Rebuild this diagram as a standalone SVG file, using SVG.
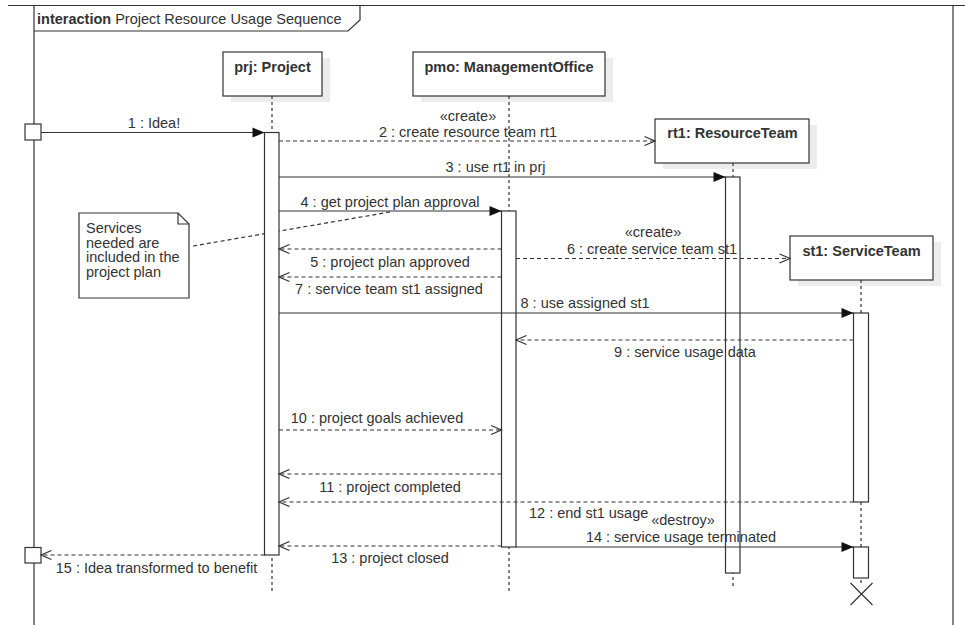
<svg xmlns="http://www.w3.org/2000/svg" width="965" height="625" viewBox="0 0 965 625">
  <style>
    text { font-family: "Liberation Sans", Arial, sans-serif; font-size: 14.5px; fill: #333; }
    .b { font-weight: bold; }
    .mid { text-anchor: middle; }
    .ln { stroke: #333; stroke-width: 1.2; fill: none; }
    .dash { stroke-dasharray: 4 3; }
    .life { stroke: #333; stroke-width: 1.2; stroke-dasharray: 3 3; fill: none; }
    .box { fill: #fff; stroke: #333; stroke-width: 1.2; }
    .shadow { fill: #ececec; }
    .msg { stroke: #333; stroke-width: 1.2; fill: none; marker-end: url(#filled); }
    .rep { stroke: #333; stroke-width: 1.2; fill: none; stroke-dasharray: 4 3; marker-end: url(#open); }
  </style>
  <defs>
    <marker id="filled" markerUnits="userSpaceOnUse" markerWidth="13" markerHeight="11" refX="12" refY="5" orient="auto" overflow="visible">
      <path d="M0,0 L12,5 L0,10 z" fill="#111" stroke="none"/>
    </marker>
    <marker id="open" markerUnits="userSpaceOnUse" markerWidth="12" markerHeight="11" refX="10.5" refY="5" orient="auto" overflow="visible">
      <path d="M0,0.5 L10.5,5 L0,9.5" fill="none" stroke="#333" stroke-width="1.2"/>
    </marker>
  </defs>

  <rect width="965" height="625" fill="#fff"/>

  <!-- interaction frame -->
  <g id="frame">
    <line class="ln" x1="8" y1="5.5" x2="965" y2="5.5"/>
    <line class="ln" x1="34" y1="5.5" x2="34" y2="625"/>
    <line class="ln" x1="953" y1="5.5" x2="953" y2="625"/>
    <path class="ln" d="M34,31 H348 L360,20 V5.5"/>
    <text x="37" y="24"><tspan class="b">interaction</tspan> Project Resource Usage Sequence</text>
  </g>

  <!-- note attachment (passes under the activation bar) -->
  <g id="note-links">
    <line class="ln dash" x1="193" y1="246" x2="390" y2="212"/>
  </g>

  <g id="note">
    <path class="box" d="M79,213 H178 L189,224 V298 H79 Z"/>
    <path class="ln" d="M178,213 V224 H189"/>
    <text x="86" y="233">Services</text>
    <text x="86" y="247.5">needed are</text>
    <text x="86" y="262">included in the</text>
    <text x="86" y="276.5">project plan</text>
  </g>

  <g id="prj">
    <rect class="shadow" x="231" y="58" width="99" height="44"/>
    <rect class="box" x="223" y="52" width="99" height="44"/>
    <text class="b mid" x="272.5" y="72">prj: Project</text>
    <line class="life" x1="272" y1="96" x2="272" y2="593"/>
    <rect class="box" x="264.5" y="132.5" width="14.5" height="422.5"/>
  </g>

  <g id="pmo">
    <rect class="shadow" x="421" y="58" width="192" height="44"/>
    <rect class="box" x="413" y="52" width="192" height="44"/>
    <text class="b mid" x="509" y="72">pmo: ManagementOffice</text>
    <line class="life" x1="509" y1="96" x2="509" y2="593"/>
    <rect class="box" x="501.5" y="211" width="14.5" height="336"/>
  </g>

  <g id="rt1">
    <rect class="shadow" x="663" y="125" width="154" height="44"/>
    <rect class="box" x="655" y="119" width="154" height="44"/>
    <text class="b mid" x="732.5" y="138">rt1: ResourceTeam</text>
    <line class="life" x1="733" y1="163" x2="733" y2="587"/>
    <rect class="box" x="725.5" y="177" width="14.5" height="396"/>
  </g>

  <g id="st1">
    <rect class="shadow" x="798" y="242" width="143" height="44"/>
    <rect class="box" x="790" y="236" width="143" height="44"/>
    <text class="b mid" x="861.5" y="256">st1: ServiceTeam</text>
    <line class="life" x1="861" y1="280" x2="861" y2="584"/>
    <rect class="box" x="853.5" y="313" width="15" height="189"/>
    <rect class="box" x="853.5" y="547" width="15" height="31"/>
    <path class="ln" d="M850.5,583 L872.5,605 M872.5,583 L850.5,605"/>
  </g>

  <!-- found / lost message gates on the frame -->
  <g id="gate-in">
    <rect class="box" x="25" y="124" width="16" height="16"/>
  </g>
  <g id="gate-out">
    <rect class="box" x="25" y="547.5" width="16" height="15.5"/>
  </g>

  <g id="connectors">
    <line class="msg" x1="41" y1="132.5" x2="264.5" y2="132.5"/>
    <text class="mid" x="154" y="128">1 : Idea!</text>

    <line class="rep" x1="279" y1="141" x2="655" y2="141"/>
    <text class="mid" x="468" y="121">«create»</text>
    <text class="mid" x="468" y="137">2 : create resource team rt1</text>

    <line class="msg" x1="279" y1="177" x2="725.5" y2="177"/>
    <text class="mid" x="495.5" y="172">3 : use rt1 in prj</text>

    <line class="msg" x1="279" y1="211" x2="501.5" y2="211"/>
    <text class="mid" x="390" y="207">4 : get project plan approval</text>

    <line class="rep" x1="501.5" y1="249" x2="279" y2="249"/>
    <text class="mid" x="390" y="267">5 : project plan approved</text>

    <line class="rep" x1="516" y1="258.5" x2="790" y2="258.5"/>
    <text class="mid" x="653" y="237">«create»</text>
    <text class="mid" x="652" y="254">6 : create service team st1</text>

    <line class="rep" x1="501.5" y1="277" x2="279" y2="277"/>
    <text class="mid" x="389" y="294">7 : service team st1 assigned</text>

    <line class="msg" x1="279" y1="313" x2="853.5" y2="313"/>
    <text class="mid" x="585" y="308">8 : use assigned st1</text>

    <line class="rep" x1="853.5" y1="340" x2="516" y2="340"/>
    <text class="mid" x="685" y="357">9 : service usage data</text>

    <line class="rep" x1="279" y1="430" x2="501.5" y2="430"/>
    <text class="mid" x="377" y="423">10 : project goals achieved</text>

    <line class="rep" x1="501.5" y1="474" x2="279" y2="474"/>
    <text class="mid" x="390" y="492">11 : project completed</text>

    <line class="rep" x1="853.5" y1="502" x2="279" y2="502"/>
    <text x="529" y="518">12 : end st1 usage</text>

    <line class="rep" x1="501.5" y1="546" x2="279" y2="546"/>
    <text class="mid" x="390" y="563">13 : project closed</text>

    <line class="msg" x1="516" y1="547" x2="853.5" y2="547"/>
    <text class="mid" x="683" y="525">«destroy»</text>
    <text class="mid" x="681" y="542">14 : service usage terminated</text>

    <line class="rep" x1="264.5" y1="555" x2="41" y2="555"/>
    <text class="mid" x="156.5" y="573">15 : Idea transformed to benefit</text>
  </g>
</svg>
